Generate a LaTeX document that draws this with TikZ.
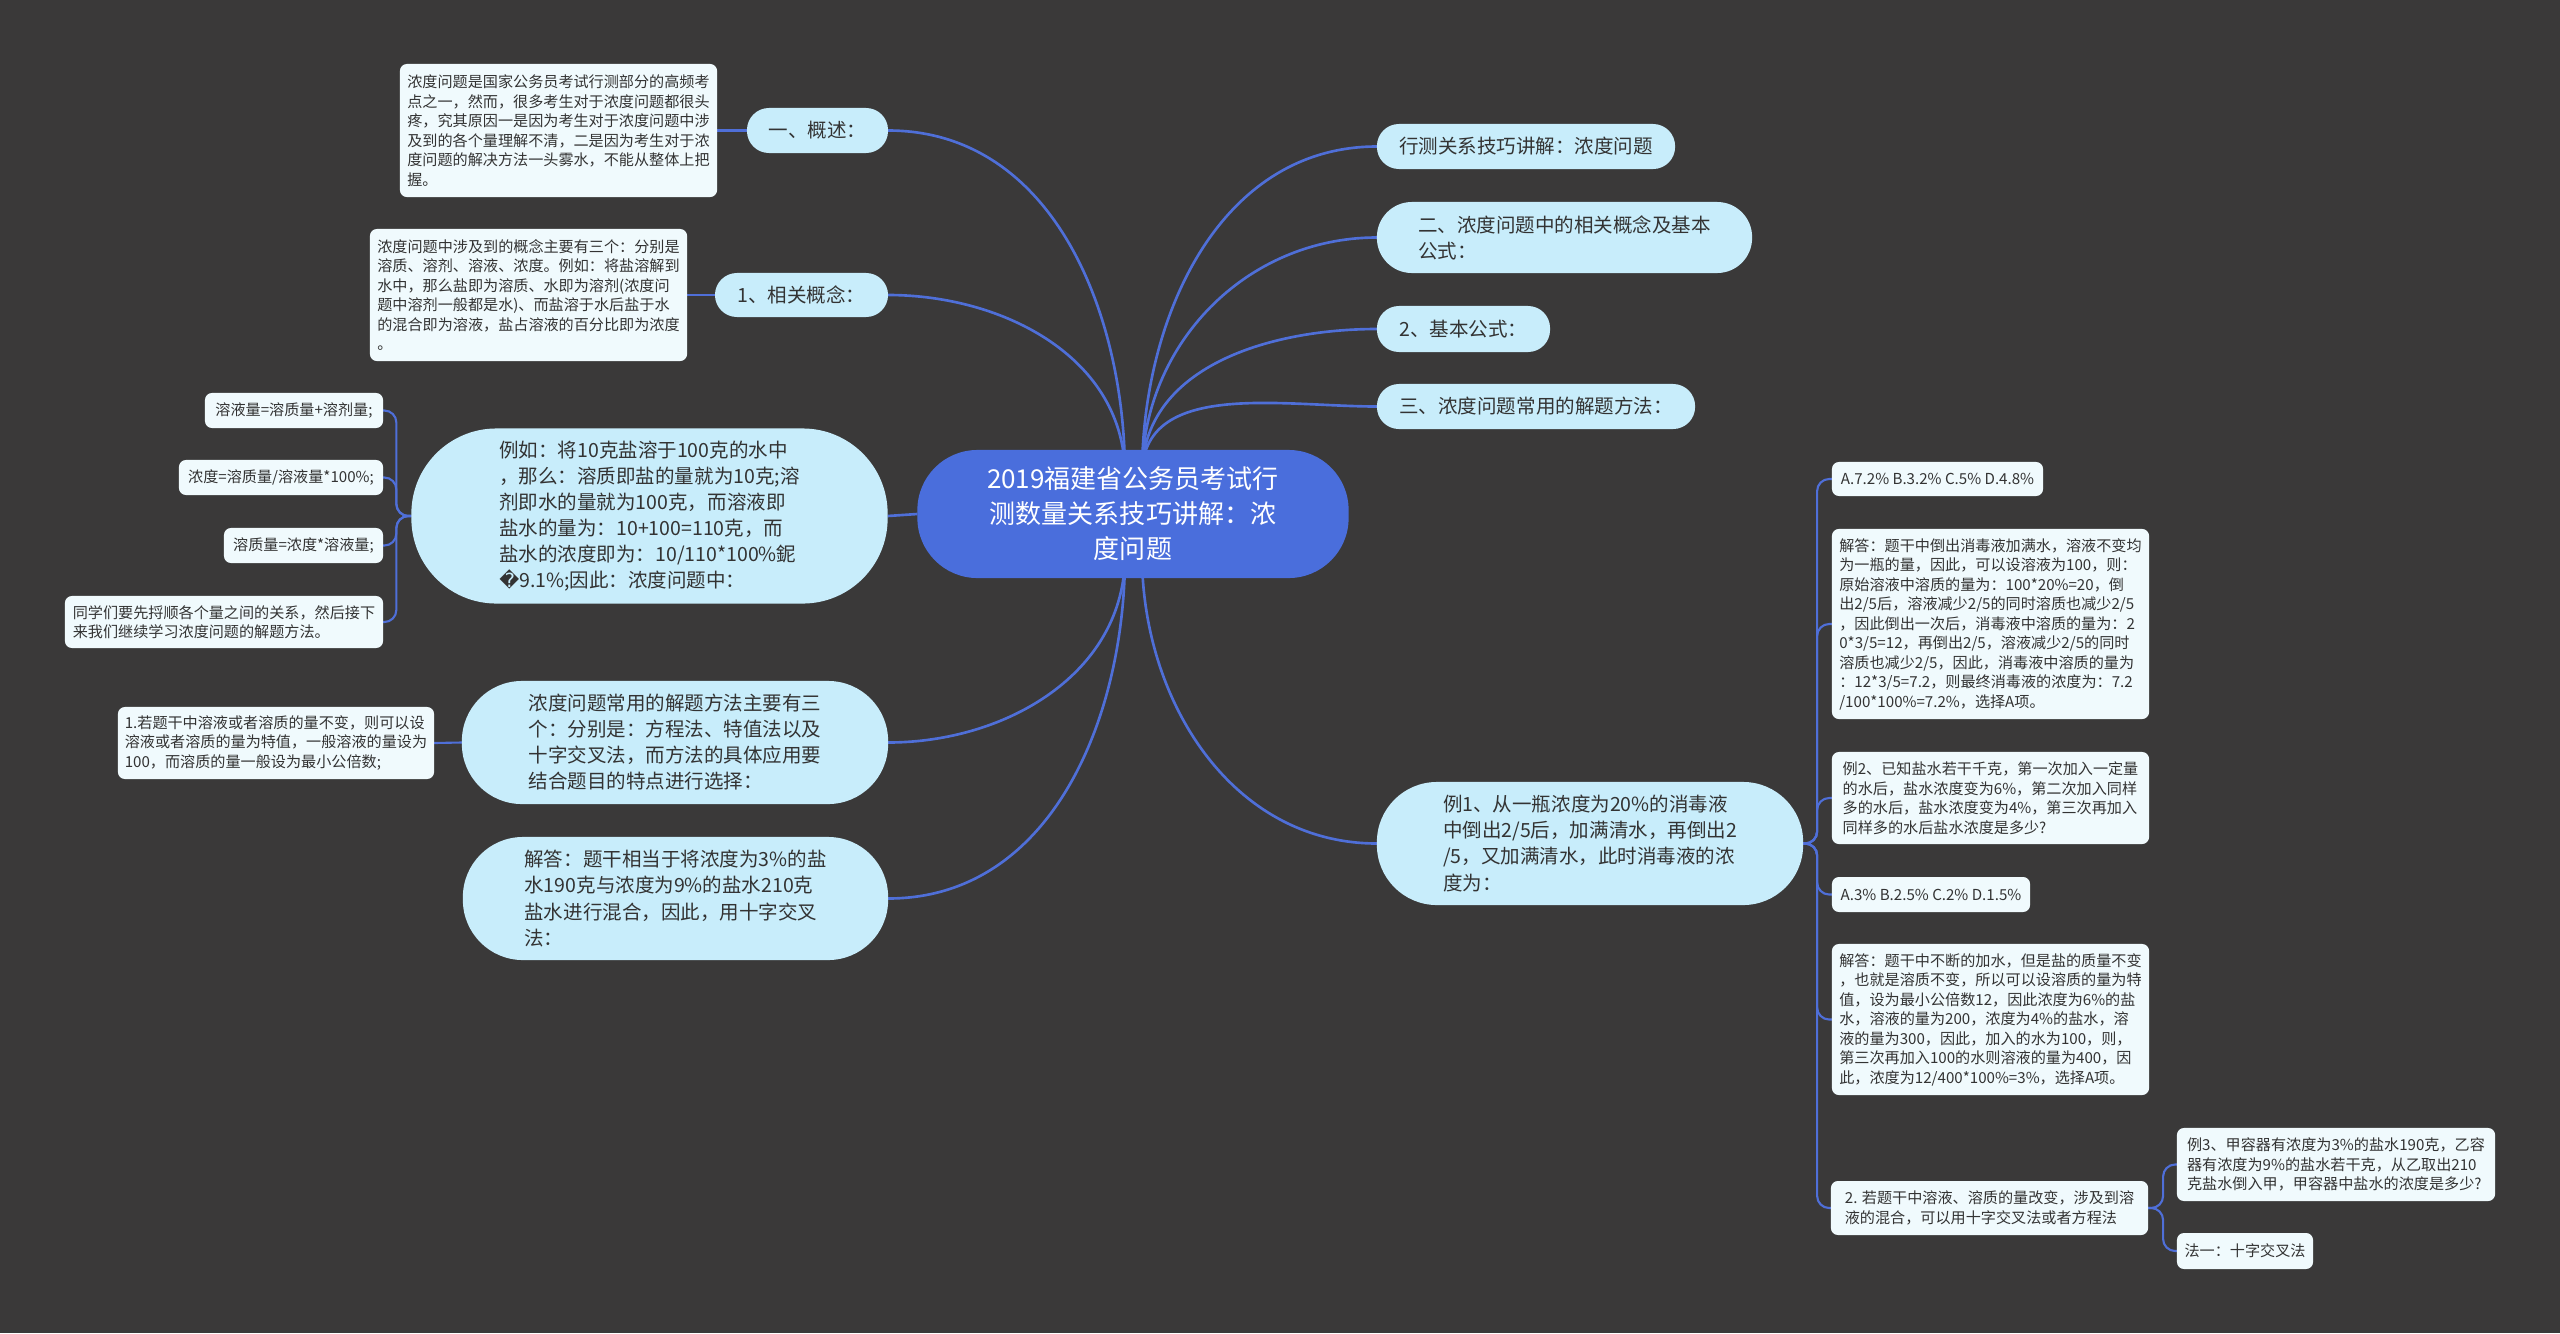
\documentclass[tikz,border=0pt]{standalone}
\usepackage{fontspec}
\setmainfont{Noto Sans CJK SC}
\newfontfamily\dejavu{DejaVu Sans}
\definecolor{bgc}{HTML}{3A3939}
\definecolor{mainblue}{HTML}{4A6EDC}
\definecolor{lonefill}{HTML}{C8EDFB}
\definecolor{leaffill}{HTML}{F0FAFD}
\definecolor{txt}{HTML}{333333}
\definecolor{edgec}{HTML}{4F6FD8}
\pgfdeclarelayer{backlayer}
\pgfdeclarelayer{linelayer}
\pgfsetlayers{backlayer,linelayer,main}
\begin{document}
\begin{tikzpicture}[x=0.01cm,y=-0.01cm,
 base/.style={inner sep=0pt, outer sep=0pt, text=txt},
 rootnode/.style={base, fill=mainblue, text=white, align=center, font=\fontsize{7.4pt}{9.96pt}\selectfont, rounded corners=0.6cm},
 lone/.style={base, fill=lonefill, align=left, font=\fontsize{5.55pt}{7.4pt}\selectfont},
 leaf/.style={base, fill=leaffill, align=left, font=\fontsize{4.3pt}{5.55pt}\selectfont, rounded corners=0.07cm},
 mainln/.style={draw=edgec, line width=0.75pt},
 subln/.style={draw=edgec, line width=0.6pt, rounded corners=0.12cm},
]
\begin{pgfonlayer}{backlayer}
\fill[bgc] (0,0) rectangle (2560,1333);
\end{pgfonlayer}
\useasboundingbox (0,0) rectangle (2560,1333);

% root
\node[rootnode, minimum width=4.31cm, minimum height=1.28cm] (root) at (1133,514) {2019福建省公务员考试行\\测数量关系技巧讲解：浓\\度问题};
\coordinate (tl) at (1125,475);
\coordinate (tr) at (1142,475);
\coordinate (bl) at (1125,555);
\coordinate (br) at (1142,555);

% left level-1
\node[lone, minimum width=1.41cm, minimum height=0.45cm, rounded corners=0.22cm] (gs) at (817.5,130.5) {一、概述：};
\node[lone, minimum width=1.73cm, minimum height=0.44cm, rounded corners=0.22cm] (xg) at (801.5,295) {1、相关概念：};
\node[lone, minimum width=4.76cm, minimum height=1.75cm, rounded corners=0.85cm] (lr) at (649.5,516) {例如：将10克盐溶于100克的水中\\，那么：溶质即盐的量就为10克;溶\\剂即水的量就为100克，而溶液即\\盐水的量为：10+100=110克，而\\盐水的浓度即为：10/110*100\%鈮\\{\dejavu �}9.1\%;因此：浓度问题中：};
\node[lone, minimum width=4.26cm, minimum height=1.23cm, rounded corners=0.6cm] (ff) at (675,742.5) {浓度问题常用的解题方法主要有三\\个：分别是：方程法、特值法以及\\十字交叉法，而方法的具体应用要\\结合题目的特点进行选择：};
\node[lone, minimum width=4.25cm, minimum height=1.23cm, rounded corners=0.6cm] (jd) at (675.5,898.5) {解答：题干相当于将浓度为3\%的盐\\水190克与浓度为9\%的盐水210克\\盐水进行混合，因此，用十字交叉\\法：};

% right level-1
\node[lone, minimum width=2.98cm, minimum height=0.45cm, rounded corners=0.22cm] (r1) at (1526,146.5) {行测关系技巧讲解：浓度问题};
\node[lone, minimum width=3.75cm, minimum height=0.71cm, rounded corners=0.35cm] (r2) at (1564.5,237.5) {二、浓度问题中的相关概念及基本\\公式：};
\node[lone, minimum width=1.73cm, minimum height=0.46cm, rounded corners=0.22cm] (r3) at (1463.5,329) {2、基本公式：};
\node[lone, minimum width=3.18cm, minimum height=0.45cm, rounded corners=0.22cm] (r4) at (1536,406.5) {三、浓度问题常用的解题方法：};
\node[lone, minimum width=4.26cm, minimum height=1.23cm, rounded corners=0.6cm] (r5) at (1590,843.5) {例1、从一瓶浓度为20\%的消毒液\\中倒出2/5后，加满清水，再倒出2\\/5，又加满清水，此时消毒液的浓\\度为：};

% left leaves
\node[leaf, minimum width=3.17cm, minimum height=1.33cm] (a1) at (558.5,130.5) {浓度问题是国家公务员考试行测部分的高频考\\点之一，然而，很多考生对于浓度问题都很头\\疼，究其原因一是因为考生对于浓度问题中涉\\及到的各个量理解不清，二是因为考生对于浓\\度问题的解决方法一头雾水，不能从整体上把\\握。};
\node[leaf, minimum width=3.17cm, minimum height=1.32cm] (a2) at (528.5,295) {浓度问题中涉及到的概念主要有三个：分别是\\溶质、溶剂、溶液、浓度。例如：将盐溶解到\\水中，那么盐即为溶质、水即为溶剂(浓度问\\题中溶剂一般都是水)、而盐溶于水后盐于水\\的混合即为溶液，盐占溶液的百分比即为浓度\\。};
\node[leaf, minimum width=1.78cm, minimum height=0.35cm] (b1) at (294,410.5) {溶液量=溶质量+溶剂量;};
\node[leaf, minimum width=2.04cm, minimum height=0.35cm] (b2) at (281,477.5) {浓度=溶质量/溶液量*100\%;};
\node[leaf, minimum width=1.59cm, minimum height=0.35cm] (b3) at (303.5,545.5) {溶质量=浓度*溶液量;};
\node[leaf, minimum width=3.18cm, minimum height=0.52cm] (b4) at (224,622) {同学们要先捋顺各个量之间的关系，然后接下\\来我们继续学习浓度问题的解题方法。};
\node[leaf, minimum width=3.16cm, minimum height=0.72cm] (c1) at (276,743) {1.若题干中溶液或者溶质的量不变，则可以设\\溶液或者溶质的量为特值，一般溶液的量设为\\100，而溶质的量一般设为最小公倍数;};

% right leaves
\node[leaf, minimum width=2.11cm, minimum height=0.34cm] (d1) at (1937.5,479) {A.7.2\% B.3.2\% C.5\% D.4.8\%};
\node[leaf, minimum width=3.17cm, minimum height=1.90cm] (d2) at (1990.5,624) {解答：题干中倒出消毒液加满水，溶液不变均\\为一瓶的量，因此，可以设溶液为100，则：\\原始溶液中溶质的量为：100*20\%=20，倒\\出2/5后，溶液减少2/5的同时溶质也减少2/5\\，因此倒出一次后，消毒液中溶质的量为：2\\0*3/5=12，再倒出2/5，溶液减少2/5的同时\\溶质也减少2/5，因此，消毒液中溶质的量为\\：12*3/5=7.2，则最终消毒液的浓度为：7.2\\/100*100\%=7.2\%，选择A项。};
\node[leaf, minimum width=3.17cm, minimum height=0.92cm] (d3) at (1990.5,798) {例2、已知盐水若干千克，第一次加入一定量\\的水后，盐水浓度变为6\%，第二次加入同样\\多的水后，盐水浓度变为4\%，第三次再加入\\同样多的水后盐水浓度是多少?};
\node[leaf, minimum width=1.98cm, minimum height=0.35cm] (d4) at (1931,894.5) {A.3\% B.2.5\% C.2\% D.1.5\%};
\node[leaf, minimum width=3.17cm, minimum height=1.51cm] (d5) at (1990.5,1019.5) {解答：题干中不断的加水，但是盐的质量不变\\，也就是溶质不变，所以可以设溶质的量为特\\值，设为最小公倍数12，因此浓度为6\%的盐\\水，溶液的量为200，浓度为4\%的盐水，溶\\液的量为300，因此，加入的水为100，则，\\第三次再加入100的水则溶液的量为400，因\\此，浓度为12/400*100\%=3\%，选择A项。};
\node[leaf, minimum width=3.17cm, minimum height=0.54cm] (d6) at (1989.5,1208) {2. 若题干中溶液、溶质的量改变，涉及到溶\\液的混合，可以用十字交叉法或者方程法};
\node[leaf, minimum width=3.18cm, minimum height=0.73cm] (e1) at (2336,1164.5) {例3、甲容器有浓度为3\%的盐水190克，乙容\\器有浓度为9\%的盐水若干克，从乙取出210\\克盐水倒入甲，甲容器中盐水的浓度是多少?};
\node[leaf, minimum width=1.36cm, minimum height=0.36cm] (e2) at (2245,1251) {法一：十字交叉法};

% connectors
\begin{pgfonlayer}{linelayer}
\draw[mainln] (tl) to[out=90,in=0] (gs.east);
\draw[mainln] (tl) to[out=90,in=0] (xg.east);
\draw[mainln] (root.west) -- (lr.east);
\draw[mainln] (bl) to[out=270,in=0] (ff.east);
\draw[mainln] (bl) to[out=270,in=0] (jd.east);
\draw[mainln] (tr) to[out=90,in=180] (r1.west);
\draw[mainln] (tr) to[out=90,in=180] (r2.west);
\draw[mainln] (tr) to[out=90,in=180] (r3.west);
\draw[mainln] (tr) to[out=90,in=180] (r4.west);
\draw[mainln] (br) to[out=270,in=180] (r5.west);

\draw[subln] (gs.west) -- (a1.east);
\draw[subln] (xg.west) -- (a2.east);
\draw[subln] (ff.west) -- (c1.east);
\draw[subln] (lr.west) -- ++(-15,0) |- (b1.east);
\draw[subln] (lr.west) -- ++(-15,0) |- (b2.east);
\draw[subln] (lr.west) -- ++(-15,0) |- (b3.east);
\draw[subln] (lr.west) -- ++(-15,0) |- (b4.east);
\draw[subln] (r5.east) -- ++(14,0) |- (d1.west);
\draw[subln] (r5.east) -- ++(14,0) |- (d2.west);
\draw[subln] (r5.east) -- ++(14,0) |- (d3.west);
\draw[subln] (r5.east) -- ++(14,0) |- (d4.west);
\draw[subln] (r5.east) -- ++(14,0) |- (d5.west);
\draw[subln] (r5.east) -- ++(14,0) |- (d6.west);
\draw[subln] (d6.east) -- ++(15,0) |- (e1.west);
\draw[subln] (d6.east) -- ++(15,0) |- (e2.west);
\end{pgfonlayer}
\end{tikzpicture}
\end{document}
